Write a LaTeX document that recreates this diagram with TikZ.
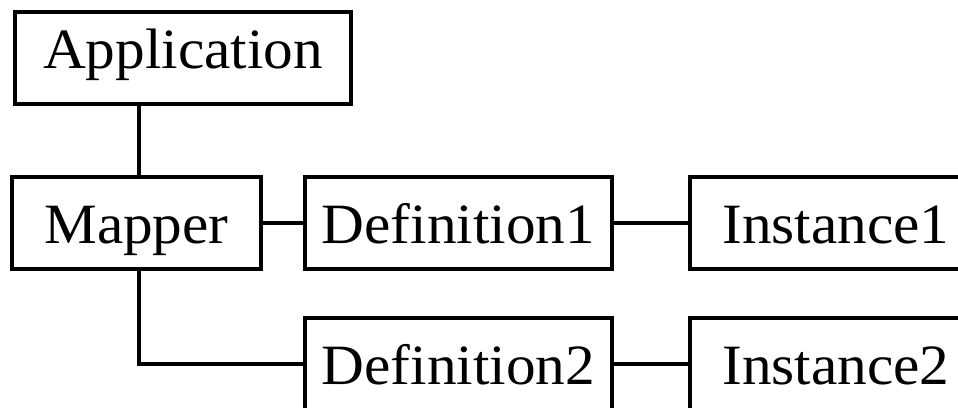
\documentclass[tikz,border=0pt]{standalone}
\usepackage{fontspec}
\setmainfont[FakeStretch=1.04]{Liberation Serif}
\begin{document}
\begin{tikzpicture}[x=1pt,y=-1pt,
  box/.style={draw, line width=4.2pt, rectangle, inner sep=0pt,
    minimum height=92pt, font=\fontsize{57}{57}\selectfont,
    text height=40pt, text depth=0pt},
  apptext/.style={text height=35pt, text depth=15pt},
  wire/.style={line width=4.2pt}]
\useasboundingbox (0,0) rectangle (958,407);
\clip (0,0) rectangle (958,407);
\fill[white] (0,0) rectangle (958,407);
\node[box, apptext, minimum width=336pt] (app) at (183,58) {Application};
\node[box, minimum width=249pt] (map) at (136.5,223) {Mapper};
\node[box, minimum width=307pt] (def1) at (458.5,223) {Definition1};
\node[box, minimum width=292pt] (inst1) at (836,223) {Instance1};
\node[box, minimum width=307pt] (def2) at (458.5,364) {Definition2};
\node[box, minimum width=292pt] (inst2) at (836,364) {Instance2};
\coordinate (trunk) at (139,0);
\draw[wire] (trunk |- app.south) -- (trunk |- map.north);
\draw[wire] (trunk |- map.south) -- (trunk |- def2.west) -- (def2.west);
\draw[wire] (map.east) -- (def1.west);
\draw[wire] (def1.east) -- (inst1.west);
\draw[wire] (def2.east) -- (inst2.west);
\end{tikzpicture}
\end{document}
